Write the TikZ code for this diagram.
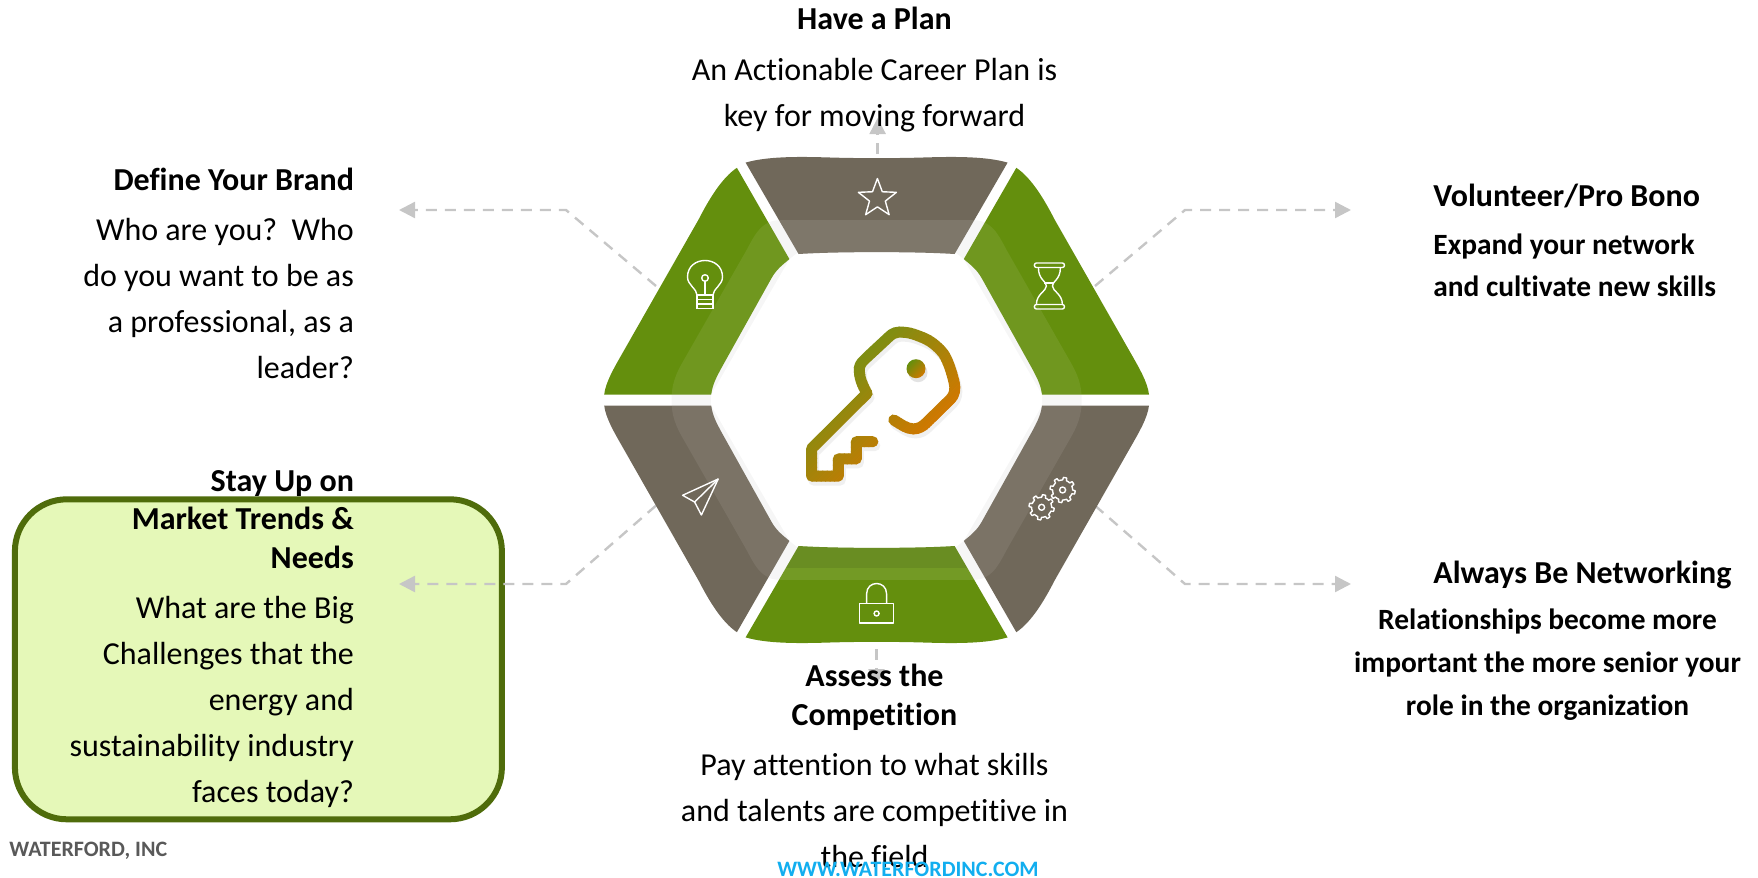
\documentclass[tikz,border=0pt]{standalone}
\usepackage{fontspec}
\setmainfont[Ligatures=NoCommon]{Carlito}
\usetikzlibrary{arrows.meta,shapes.geometric,positioning}

\definecolor{leafgreen}{HTML}{648F0D}
\definecolor{stonebrown}{HTML}{70685A}
\definecolor{boxfill}{HTML}{E5F8B8}
\definecolor{boxline}{HTML}{4F6C0B}
\definecolor{dashgray}{HTML}{C6C6C6}
\definecolor{keystart}{HTML}{7E8E12}
\definecolor{keyend}{HTML}{D07800}
\definecolor{webblue}{HTML}{12AEEF}
\definecolor{footgray}{HTML}{595959}

\newcommand{\topseg}{(-131,-237.4) .. controls (-110,-243.5) and (-80,-243.5) .. (-50,-242.6) .. controls (-20,-241.6) and (20,-241.6) .. (50,-242.6) .. controls (80,-243.5) and (110,-243.5) .. (131,-237.4) -- (78,-146) .. controls (40,-148.5) and (-40,-148.5) .. (-78,-146) -- cycle}
\newcommand{\sideseg}{(139.7,-232.2) .. controls (155,-222) and (168,-200) .. (178,-180.5) -- (254.5,-46.2) .. controls (262,-33) and (271,-18) .. (272.4,-5.5) -- (165.4,-5.5) .. controls (164,-16) and (160,-23) .. (155,-32.4) -- (105,-122) .. controls (100,-131) and (93,-136) .. (87.2,-140.9) -- cycle}
\newcommand{\bandhex}{(-97,-179.8) -- (97,-179.8) .. controls (115,-179.8) and (122,-165) .. (130,-150) -- (195,-36) .. controls (204,-20) and (205,-10) .. (205,0) .. controls (205,10) and (204,20) .. (195,36) -- (130,150) .. controls (122,165) and (115,179.8) .. (97,179.8) -- (-97,179.8) .. controls (-115,179.8) and (-122,165) .. (-130,150) -- (-195,36) .. controls (-204,20) and (-205,10) .. (-205,0) .. controls (-205,-10) and (-204,-20) .. (-195,-36) -- (-130,-150) .. controls (-122,-165) and (-115,-179.8) .. (-97,-179.8) -- cycle}
\newcommand{\keyline}{(17.2,20) .. controls (24,24) and (30,29) .. (36.8,28.9) .. controls (42,28.9) and (46,26.5) .. (49.8,22.7) -- (74,-1) .. controls (78,-5) and (79,-11) .. (77.7,-16.9) .. controls (75,-28) and (72,-38) .. (67,-46.2) .. controls (60,-55) and (52,-60) .. (47.8,-61.7) .. controls (40,-65) and (32,-68) .. (24.9,-67.9) .. controls (20,-68) and (16,-67) .. (12.6,-63.4) -- (-11.5,-41) .. controls (-16,-37) and (-18,-33) .. (-17.2,-28.9) .. controls (-17,-20) and (-13,-13) .. (-9.6,-6.5) -- (-65,48.6) -- (-65,76.1) -- (-38.3,76.1) -- (-38.3,58.9) -- (-20.3,58.9) -- (-20.3,41.7) -- (-3.8,41.7)}

\tikzset{
  iconline/.style={draw=white, line width=0.7pt, line join=round},
  keystroke/.style={line width=5.5pt, line cap=round, line join=round},
  leader/.style={draw=dashgray, line width=1.2pt, dash pattern=on 5.5pt off 4pt, -{Triangle[length=8pt,width=8pt]}},
  bodytext/.style={inner sep=0, font=\fontsize{16}{23}\selectfont},
  headtext/.style={inner sep=0, font=\fontsize{16}{19.25}\selectfont\bfseries},
  sidetext/.style={inner sep=0, font=\fontsize{14.7}{21.4}\selectfont\bfseries},
}

\begin{document}
\begin{tikzpicture}[x=0.5pt,y=-0.5pt]
  \useasboundingbox (0,0) rectangle (1758,878);

  % highlight box
  \node[draw=boxline, fill=boxfill, line width=3pt, rounded corners=26pt, minimum width=243.5pt, minimum height=160pt] (trendbox) at (258.4,659.3) {};

  % leader lines
  \coordinate (topstart) at (877.6,154);
  \coordinate (toptip) at (877.6,118);
  \coordinate (ulstart) at (656,286);
  \coordinate (ulbend) at (566,210);
  \coordinate (ultip) at (399,210);
  \coordinate (urstart) at (1095,286);
  \coordinate (urbend) at (1185,210);
  \coordinate (urtip) at (1351,210);
  \coordinate (llstart) at (656,505.6);
  \coordinate (llbend) at (566,584);
  \coordinate (lltip) at (399,584);
  \coordinate (lrstart) at (1095,505.6);
  \coordinate (lrbend) at (1185,584);
  \coordinate (lrtip) at (1351,584);
  \coordinate (botstart) at (876.5,649);
  \coordinate (bottip) at (876.5,685);
  \draw[leader] (topstart) -- (toptip);
  \draw[leader] (ulstart) -- (ulbend) -- (ultip);
  \draw[leader] (urstart) -- (urbend) -- (urtip);
  \draw[leader] (llstart) -- (llbend) -- (lltip);
  \draw[leader] (lrstart) -- (lrbend) -- (lrtip);
  \draw[leader] (botstart) -- (bottip);

  % hexagon
  \begin{scope}[shift={(876.6,400)}]
    \fill[gray!7] \bandhex;
    \fill[white] (-78,-148) -- (78,-148) -- (87,-141) -- (165.4,-5.5) -- (165.4,5.5) -- (87,141) -- (78,148) -- (-78,148) -- (-87,141) -- (-165.4,5.5) -- (-165.4,-5.5) -- (-87,-141) -- cycle;
    % top and bottom pieces
    \begin{scope}
      \fill[stonebrown] \topseg;
      \clip \topseg;
      \fill[white, opacity=0.1] \bandhex;
    \end{scope}
    \begin{scope}[yscale=-1]
      \fill[leafgreen] \topseg;
      \clip \topseg;
      \fill[white, opacity=0.1] \bandhex;
      \fill[black, opacity=0.08] (-100,-168) rectangle (100,-140);
    \end{scope}
    % side pieces
    \begin{scope}
      \fill[leafgreen] \sideseg;
      \clip \sideseg;
      \fill[white, opacity=0.08] \bandhex;
    \end{scope}
    \begin{scope}[xscale=-1]
      \fill[leafgreen] \sideseg;
      \clip \sideseg;
      \fill[white, opacity=0.08] \bandhex;
    \end{scope}
    \begin{scope}[yscale=-1]
      \fill[stonebrown] \sideseg;
      \clip \sideseg;
      \fill[white, opacity=0.08] \bandhex;
    \end{scope}
    \begin{scope}[xscale=-1,yscale=-1]
      \fill[stonebrown] \sideseg;
      \clip \sideseg;
      \fill[white, opacity=0.08] \bandhex;
    \end{scope}

    % key
    \begin{scope}[shift={(2,4)}]
      \draw[gray!12, keystroke] \keyline;
      \fill[gray!22] (39.4,-31.3) circle (9.5);
    \end{scope}
    % gradient along the key, strip by strip
    \foreach \i in {0,...,31}{
      \pgfmathsetmacro{\sa}{-60+\i*4.5}
      \pgfmathsetmacro{\sb}{\sa+5.2}
      \pgfmathsetmacro{\pc}{\i*100/31}
      \begin{scope}
        \clip (\sa+200,-200) -- (\sb+200,-200) -- (\sb-200,200) -- (\sa-200,200) -- cycle;
        \draw[keyend!\pc!keystart, keystroke] \keyline;
      \end{scope}
    }
    \shade[top color=leafgreen, bottom color=keyend, shading angle=45] (39.4,-31.3) circle (9.5);

    % star
    \node[iconline, star, star points=5, star point ratio=2.4, minimum size=20pt, inner sep=0] (staricon) at (0.8,-201.5) {};
    % hourglass
    \begin{scope}[shift={(172.8,-114)}]
      \draw[iconline, rounded corners=1pt] (-15,-23) rectangle (15,-18.5);
      \draw[iconline, rounded corners=1pt] (-15,18.5) rectangle (15,23);
      \draw[iconline] (-11,-18.5) .. controls (-11,-6) and (-3,-5) .. (-3,0) .. controls (-3,5) and (-13,8) .. (-13,18.5);
      \draw[iconline] (11,-18.5) .. controls (11,-6) and (3,-5) .. (3,0) .. controls (3,5) and (13,8) .. (13,18.5);
      \draw[iconline] (-5,-3) -- (5,-3);
    \end{scope}
    % bulb
    \begin{scope}[shift={(-171.6,-114)}]
      \draw[iconline] (-8,9) .. controls (-8,3) and (-17.5,-1) .. (-17.5,-9) .. controls (-17.5,-31) and (17.5,-31) .. (17.5,-9) .. controls (17.5,-1) and (8,3) .. (8,9);
      \draw[iconline] (-8,9) -- (8,9) (-8,13.5) -- (8,13.5) (-8,18) -- (8,18) (-8,22.5) -- (8,22.5) (-8,9) -- (-8,22.5) (8,9) -- (8,22.5);
      \draw[iconline] (0,-8) circle (3.3);
      \draw[iconline] (0,-4.7) -- (0,9);
    \end{scope}
    % paper plane
    \begin{scope}[shift={(-176,97)}]
      \coordinate (planetip) at (17.6,-18);
      \coordinate (planefold) at (-6,5);
      \draw[iconline] (planetip) -- (-18,-1.7) -- (planefold) -- (0.8,18) -- cycle;
      \draw[iconline] (planetip) -- (planefold);
    \end{scope}
    % gears
    \foreach \gx/\gy in {186/90,165/107.3}{
      \begin{scope}[shift={(\gx,\gy)}]
        \draw[iconline] plot[samples=97, domain=0:360] (\x:{10+2.6*(sin(8*\x)>0)}) -- cycle;
        \draw[iconline] (0,0) circle (3);
      \end{scope}
    }
    % lock
    \begin{scope}[shift={(0,0)}]
      \draw[iconline] (-17,203.6) rectangle (17,223);
      \draw[iconline] (-10,203.6) -- (-10,194) .. controls (-10,180) and (10,180) .. (10,194) -- (10,203.6);
      \draw[iconline] (0,213.5) circle (2.5);
    \end{scope}
  \end{scope}

  % labels
  \node[headtext] (plantitle) at (874.5,18) {Have a Plan};
  \node[bodytext, align=center] (plantext) at (874.5,94.7) {An Actionable Career Plan is\\key for moving forward};
  \node[headtext, anchor=east] (brandtitle) at (354.3,179.4) {Define Your Brand};
  \node[bodytext, align=right, anchor=east] (brandtext) at (354.3,299) {Who are you?\ \ Who\\do you want to be as\\a professional, as a\\leader?};
  \node[headtext, align=right, anchor=east] (trendtitle) at (354.3,519.5) {Stay Up on\\Market Trends \&\\Needs};
  \node[bodytext, align=right, anchor=east] (trendtext) at (354.3,702.2) {What are the Big\\Challenges that the\\energy and\\sustainability industry\\faces today?};
  \node[headtext, anchor=west] (protitle) at (1433,196) {Volunteer/Pro Bono};
  \node[sidetext, align=left, anchor=west] (protext) at (1433,265.3) {Expand your network\\and cultivate new skills};
  \node[headtext, anchor=west] (nettitle) at (1433,575.2) {Always Be Networking};
  \node[sidetext, align=center] (nettext) at (1547.5,664.7) {Relationships become more\\important the more senior your\\role in the organization};
  \node[headtext, align=center] (comptitle) at (874.5,697.2) {Assess the\\Competition};
  \node[bodytext, align=center] (comptext) at (874.5,811) {Pay attention to what skills\\and talents are competitive in\\the field};

  % footer
  \node[inner sep=0, anchor=west, text=footgray, font=\fontsize{11}{13}\selectfont\bfseries] (firmname) at (9,851.2) {WATERFORD, INC};
  \node[inner sep=0, text=webblue, font=\fontsize{11}{13}\selectfont\bfseries] (firmweb) at (908,869.5) {WWW.WATERFORDINC.COM};
\end{tikzpicture}
\end{document}
